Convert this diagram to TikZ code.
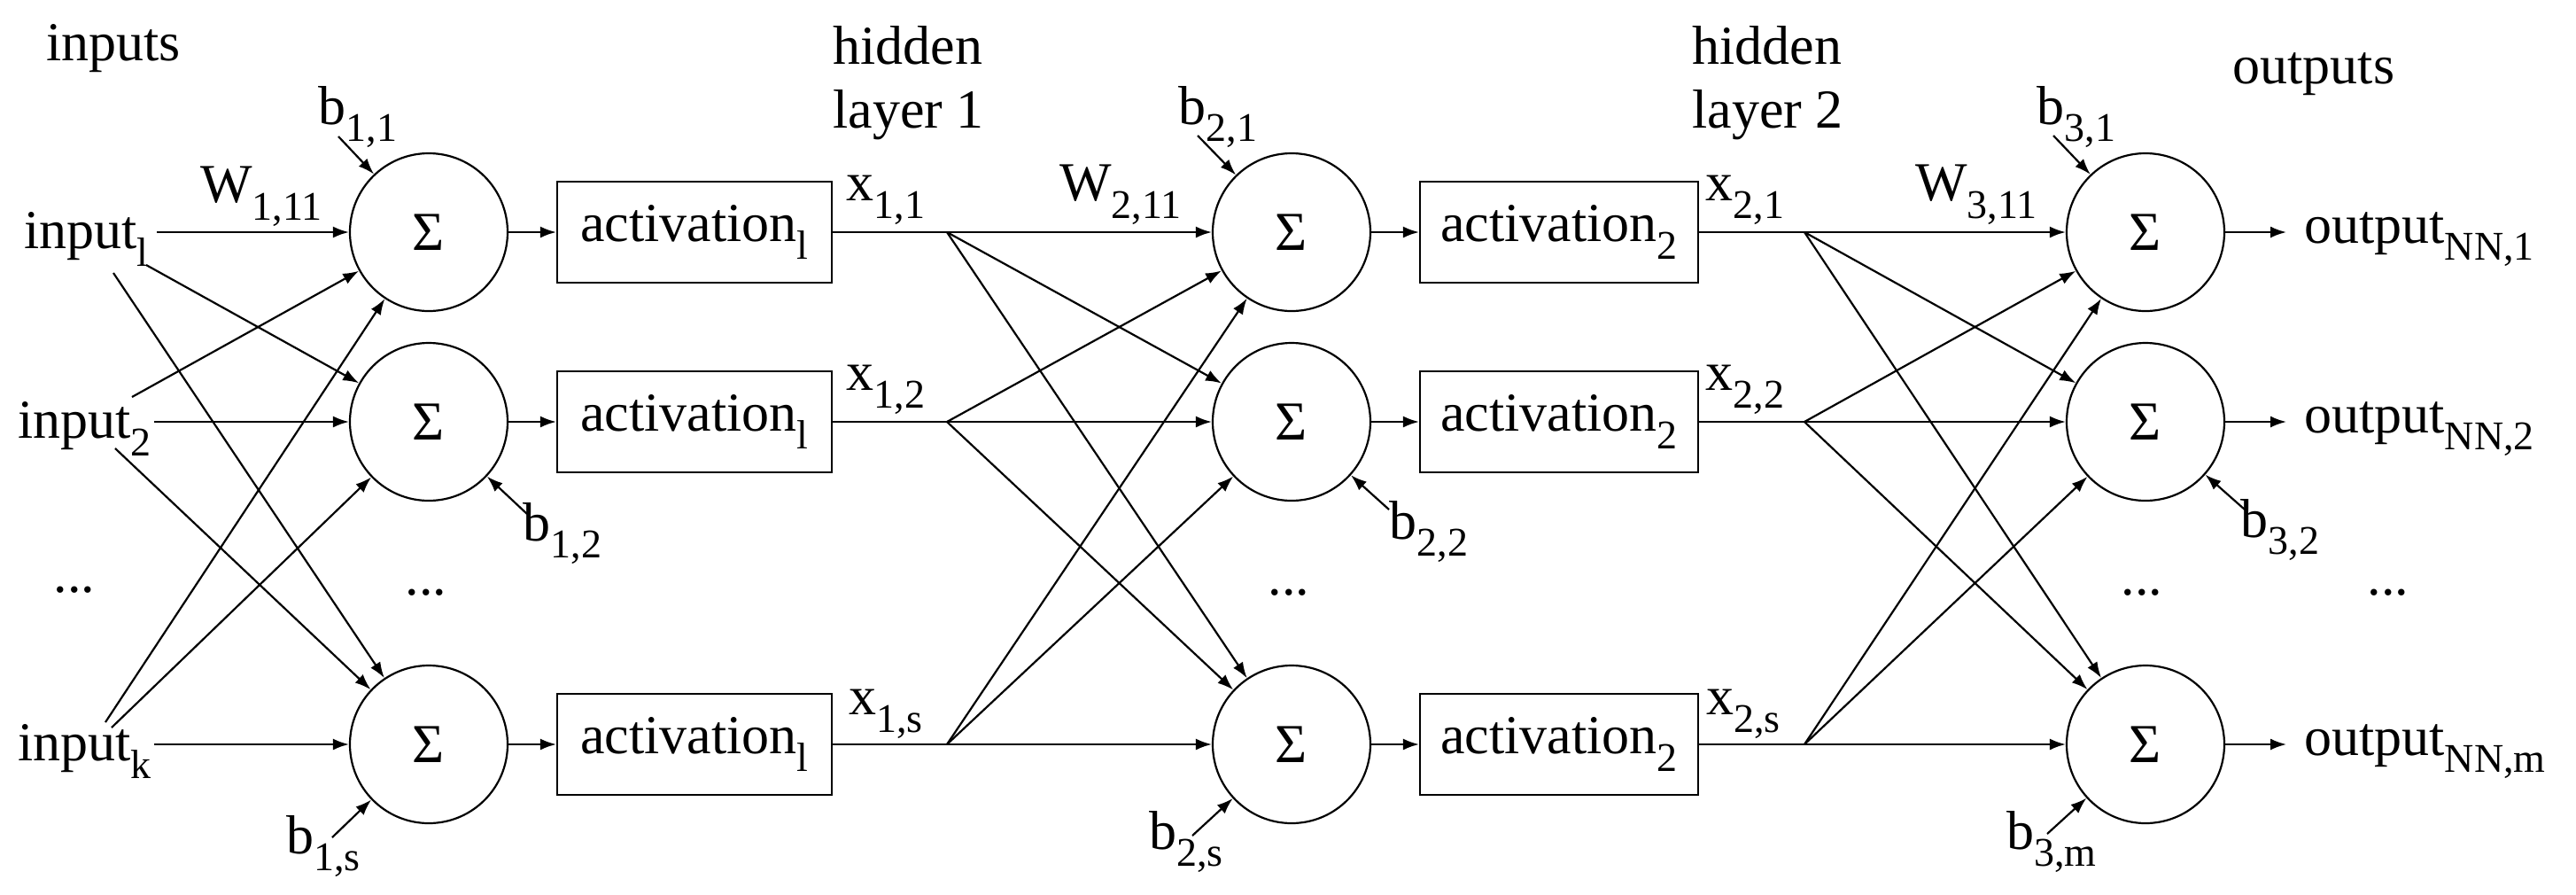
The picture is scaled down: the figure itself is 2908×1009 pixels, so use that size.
\documentclass[tikz,border=0pt]{standalone}
\usepackage{fontspec}
\setmainfont{Liberation Serif}
\newfontfamily\tnr{Liberation Serif}
\usetikzlibrary{arrows.meta}
\newcommand{\sbx}[1]{\raisebox{-0.32em}{\fontsize{23}{23}\selectfont #1}}
\begin{document}
\begin{tikzpicture}[x=0.5pt,y=-0.5pt,
  every node/.style={font=\tnr\fontsize{31}{36}\selectfont},
  sum/.style={circle,draw,line width=1.1pt,minimum size=89pt,inner sep=0pt},
  act/.style={rectangle,draw,line width=1.1pt,minimum height=57pt,inner sep=0pt},
  lab/.style={inner sep=0pt},
  ln/.style={line width=1.1pt},
  arr/.style={line width=1.1pt,-{Latex[length=9pt,width=6.5pt]}}]
\useasboundingbox (0,0) rectangle (2908,1009);
% headers
\node[lab] (hin) at (128,55) {inputs};
\node[lab,align=left,anchor=west] (h1) at (940,94) {hidden\\layer 1};
\node[lab,align=left,anchor=west] (h2) at (1910,94) {hidden\\layer 2};
\node[lab] (hout) at (2612,84) {outputs};
% rows
\foreach \r/\y in {1/262,2/476,3/840}{
  \node[sum] (c1-\r) at (484,\y) {Σ};
  \node[sum] (c2-\r) at (1458,\y) {Σ};
  \node[sum] (c3-\r) at (2422,\y) {Σ};
  \node[act,minimum width=155pt] (a1-\r) at (784,\y) {activation\sbx{l}};
  \node[act,minimum width=157pt] (a2-\r) at (1760,\y) {activation\sbx{2}};
  \coordinate (j1-\r) at (1069,\y);
  \coordinate (j2-\r) at (2037,\y);
  \coordinate (o-\r) at (2581,\y);
  \draw[arr] (c1-\r) -- (a1-\r);
  \draw[arr] (c2-\r) -- (a2-\r);
  \draw[ln] (a1-\r) -- (j1-\r);
  \draw[ln] (a2-\r) -- (j2-\r);
  \draw[arr] (c3-\r) -- (o-\r);
}
\foreach \r in {1,2,3}{\foreach \s in {1,2,3}{
  \draw[arr] (j1-\r) -- (c2-\s);
  \draw[arr] (j2-\r) -- (c3-\s);
}}
% inputs
\node[lab,anchor=west] (in1) at (27,270) {input\sbx{l}};
\node[lab,anchor=west] (in2) at (20,484) {input\sbx{2}};
\node[lab,anchor=west] (ink) at (20,848) {input\sbx{k}};
\coordinate (s11) at (177,262);
\coordinate (s22) at (174,476);
\coordinate (sk3) at (174,840);
\coordinate (s12) at (165,299);
\coordinate (s13) at (128,308);
\coordinate (s21) at (149,448);
\coordinate (s23) at (130,506);
\coordinate (sk1) at (119,815);
\coordinate (sk2) at (126,821);
\draw[arr] (s11) -- (c1-1);
\draw[arr] (s22) -- (c1-2);
\draw[arr] (sk3) -- (c1-3);
\draw[arr] (s12) -- (c1-2);
\draw[arr] (s13) -- (c1-3);
\draw[arr] (s21) -- (c1-1);
\draw[arr] (s23) -- (c1-3);
\draw[arr] (sk1) -- (c1-1);
\draw[arr] (sk2) -- (c1-2);
% outputs
\node[lab,anchor=west] (out1) at (2601,270) {output\sbx{NN,1}};
\node[lab,anchor=west] (out2) at (2601,484) {output\sbx{NN,2}};
\node[lab,anchor=west] (outm) at (2601,848) {output\sbx{NN,m}};
% weights and x labels
\node[lab] (w1) at (295,222) {W\sbx{1,11}};
\node[lab] (w2) at (1265,220) {W\sbx{2,11}};
\node[lab] (w3) at (2231,220) {W\sbx{3,11}};
\node[lab] (x11) at (1000,226) {x\sbx{1,1}};
\node[lab] (x12) at (1000,440) {x\sbx{1,2}};
\node[lab] (x1s) at (1000,806) {x\sbx{1,s}};
\node[lab] (x21) at (1970,226) {x\sbx{2,1}};
\node[lab] (x22) at (1970,440) {x\sbx{2,2}};
\node[lab] (x2s) at (1968,806) {x\sbx{2,s}};
% dots
\node[lab] (d0) at (84,666) {...};
\node[lab] (d1) at (481,669) {...};
\node[lab] (d2) at (1455,669) {...};
\node[lab] (d3) at (2418,669) {...};
\node[lab] (d4) at (2696,669) {...};
% biases
\node[lab] (b11) at (404,132) {b\sbx{1,1}};
\node[lab] (b12) at (635,602) {b\sbx{1,2}};
\node[lab] (b1s) at (365,955) {b\sbx{1,s}};
\node[lab] (b21) at (1375,132) {b\sbx{2,1}};
\node[lab] (b22) at (1613,600) {b\sbx{2,2}};
\node[lab] (b2s) at (1339,950) {b\sbx{2,s}};
\node[lab] (b31) at (2344,132) {b\sbx{3,1}};
\node[lab] (b32) at (2574,598) {b\sbx{3,2}};
\node[lab] (b3m) at (2316,950) {b\sbx{3,m}};
\coordinate (e11) at (382,154);
\coordinate (e12) at (595,580);
\coordinate (e1s) at (375,945);
\coordinate (e21) at (1352,153);
\coordinate (e22) at (1568,575);
\coordinate (e2s) at (1346,943);
\coordinate (e31) at (2318,153);
\coordinate (e32) at (2534,575);
\coordinate (e3m) at (2311,941);
\draw[arr] (e11) -- (c1-1);
\draw[arr] (e12) -- (c1-2);
\draw[arr] (e1s) -- (c1-3);
\draw[arr] (e21) -- (c2-1);
\draw[arr] (e22) -- (c2-2);
\draw[arr] (e2s) -- (c2-3);
\draw[arr] (e31) -- (c3-1);
\draw[arr] (e32) -- (c3-2);
\draw[arr] (e3m) -- (c3-3);
\end{tikzpicture}
\end{document}
